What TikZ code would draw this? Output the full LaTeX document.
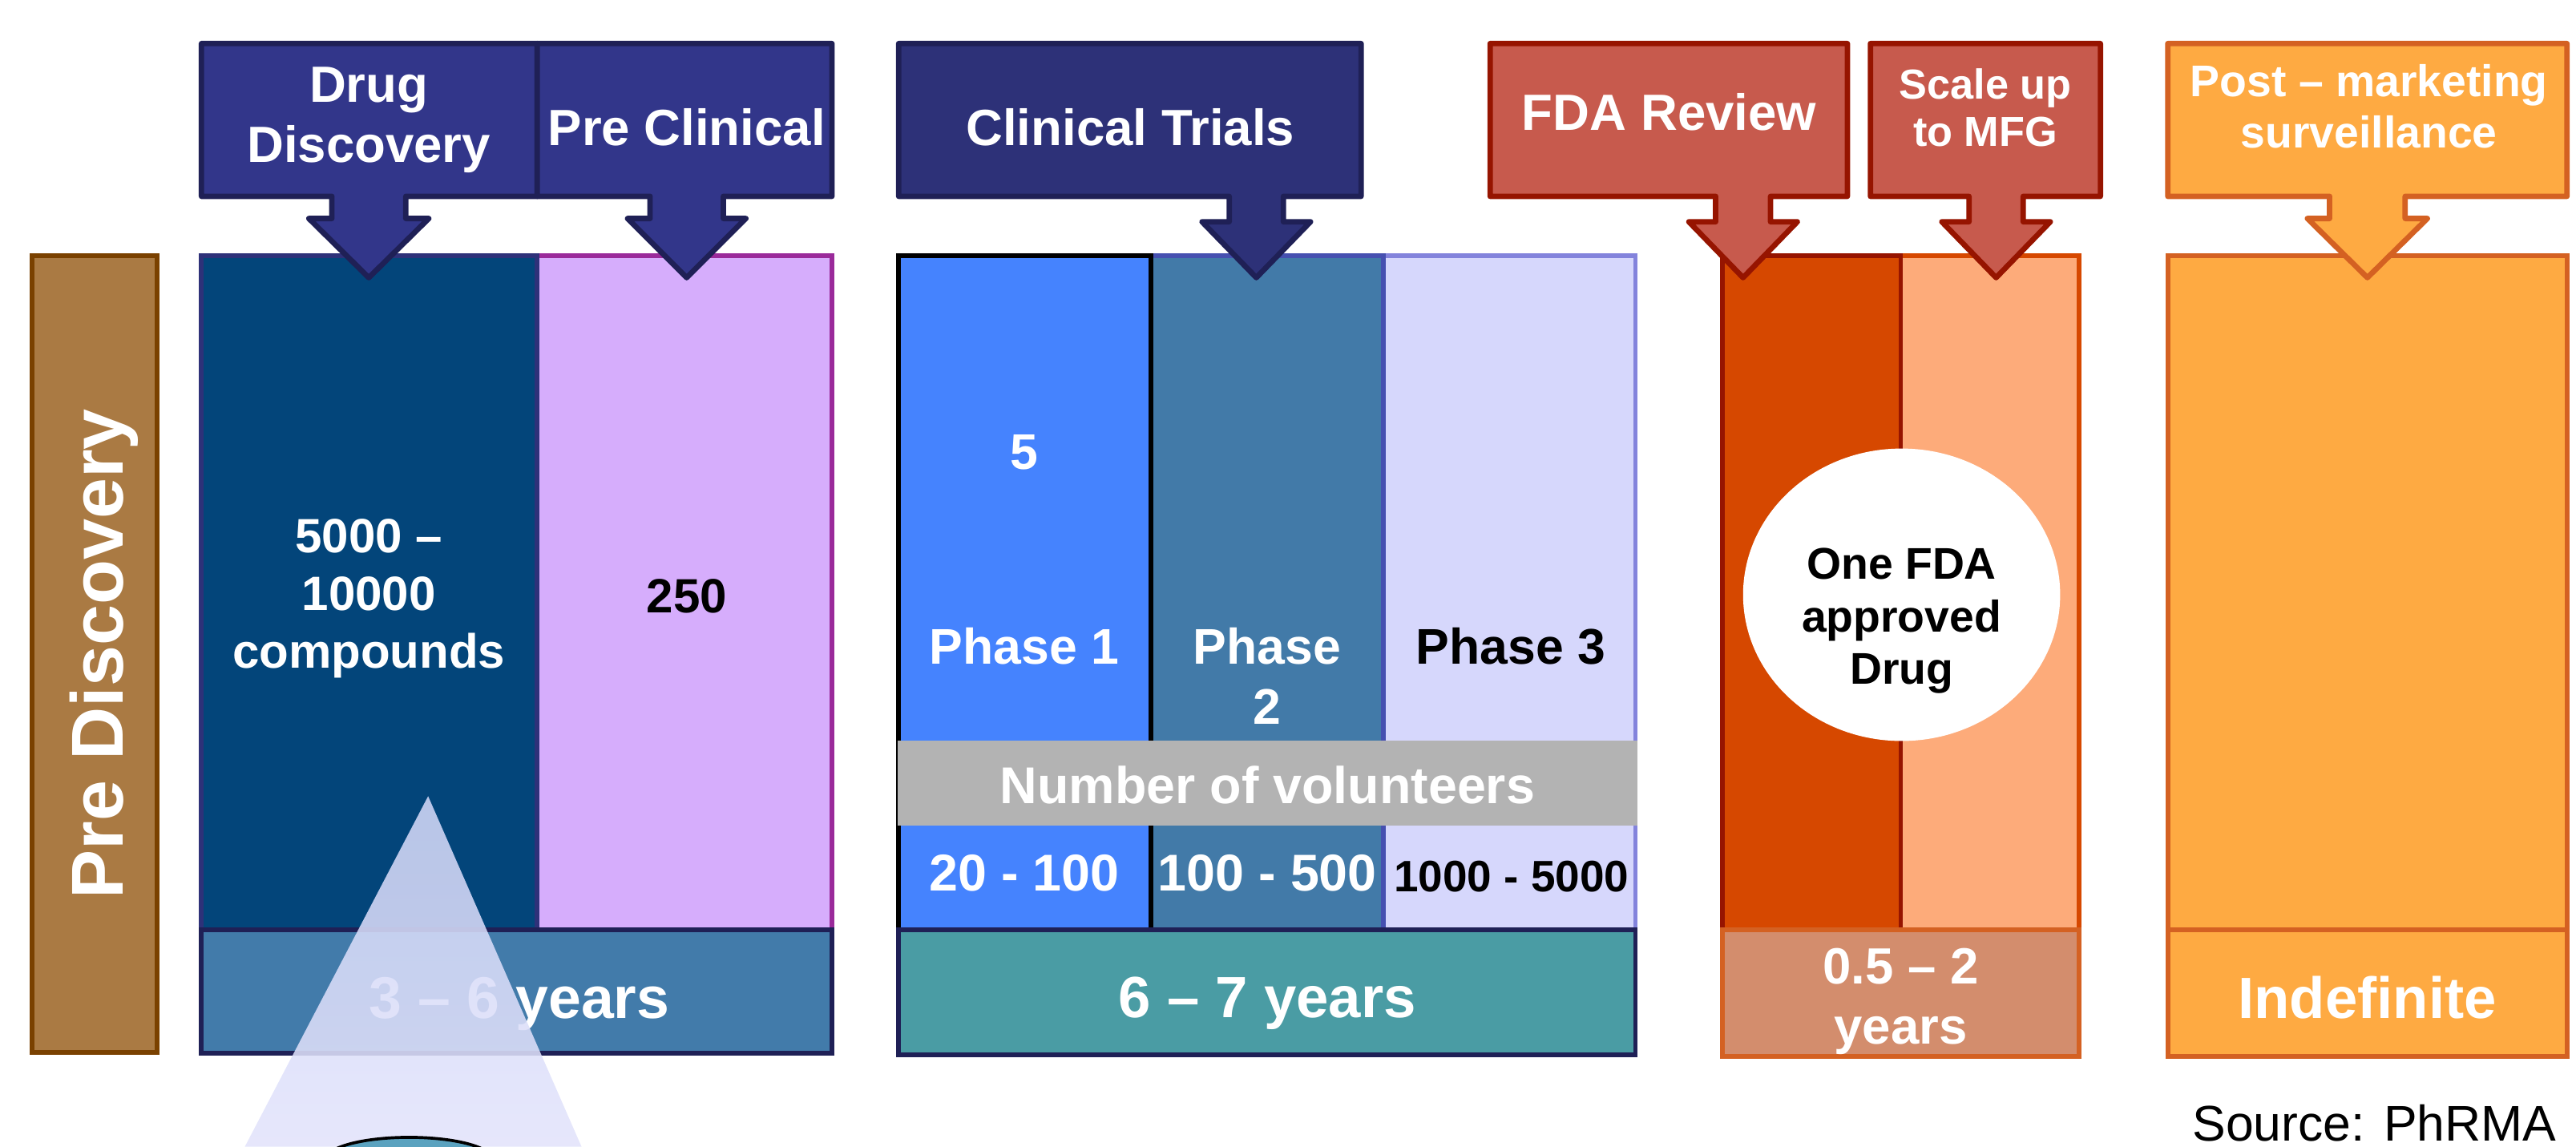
\documentclass[tikz,border=0pt]{standalone}
\usepackage{fontspec}
\setmainfont{Liberation Sans}
\usetikzlibrary{shapes.geometric}

\definecolor{brownF}{HTML}{AA7A43}
\definecolor{brownD}{HTML}{7A4100}
\definecolor{ddF}{HTML}{03457A}
\definecolor{ddD}{HTML}{2E3179}
\definecolor{pcF}{HTML}{D6ADFC}
\definecolor{pcD}{HTML}{9A2A9A}
\definecolor{yrA}{HTML}{427BAA}
\definecolor{navyD}{HTML}{1F2056}
\definecolor{pOneF}{HTML}{4583FE}
\definecolor{pTwoF}{HTML}{427AA8}
\definecolor{pTwoD}{HTML}{4650B0}
\definecolor{pThreeF}{HTML}{D6D7FC}
\definecolor{pThreeD}{HTML}{8383DC}
\definecolor{grayF}{HTML}{B3B3B3}
\definecolor{yrB}{HTML}{4A9CA4}
\definecolor{fdaLF}{HTML}{D64800}
\definecolor{redD}{HTML}{961400}
\definecolor{fdaRF}{HTML}{FDAB7A}
\definecolor{yrC}{HTML}{D38D6D}
\definecolor{orD}{HTML}{D46122}
\definecolor{postF}{HTML}{FEAA42}
\definecolor{calNavy}{HTML}{32368A}
\definecolor{calNavyB}{HTML}{2D3178}
\definecolor{calRed}{HTML}{C75A4D}
\definecolor{triTop}{HTML}{D2D7F8}
\definecolor{triBot}{HTML}{E2E3FA}
\definecolor{tealF}{HTML}{5AA2BF}

\newcommand\fsz[2]{\fontsize{#1mm}{#2mm}\selectfont}

\tikzset{
  every node/.style={inner sep=0pt, outer sep=0pt},
  callout/.style={line width=3.3mm, line join=round},
  bar/.style={line width=2.8mm, line join=miter},
  lbl/.style={text=white, align=center},
  dlbl/.style={text=black, align=center},
}

\begin{document}
\begin{tikzpicture}[x=1mm, y=-1mm]
\useasboundingbox (0,0) rectangle (1568,698);

% ---------- Pre Discovery ----------
\draw[bar, draw=brownD, fill=brownF] (19.5,155.5) rectangle (95.5,640.5);
\node[lbl, anchor=base, rotate=90, font=\bfseries\fsz{44.7}{50}] (tPre) at (75,398) {Pre Discovery};

% ---------- Drug discovery / pre clinical bars ----------
\draw[bar, draw=pcD, fill=pcF] (327,155.5) rectangle (506.5,566);
\draw[bar, draw=ddD, fill=ddF] (122.5,155.5) rectangle (327,566);
\draw[bar, draw=navyD, fill=yrA] (122.5,566) rectangle (506.5,641);
\node[lbl, font=\bfseries\fsz{29.3}{35.2}] (tCompounds) at (224.5,364.4) {5000 \textendash\\10000\\compounds};
\node[dlbl, anchor=base, font=\bfseries\fsz{29.3}{35}] (t250) at (418,373) {250};
\node[lbl, anchor=base, font=\bfseries\fsz{35.8}{40}] (tYrA) at (316,620) {3 \textendash\ 6 years};

% ---------- Clinical trial bars ----------
\draw[bar, draw=pThreeD, fill=pThreeF] (842,155.5) rectangle (995.5,566);
\draw[bar, draw=pTwoD, fill=pTwoF] (700.6,155.5) rectangle (842,566);
\draw[bar, draw=black, fill=pOneF] (547,155.5) rectangle (700.6,566);
\fill[grayF] (546.5,451) rectangle (996.5,502.4);
\draw[bar, draw=navyD, fill=yrB] (547,566) rectangle (995.5,642);
\node[lbl, anchor=base, font=\bfseries\fsz{30.5}{35}] (t5) at (623.5,285.6) {5};
\node[lbl, anchor=base, font=\bfseries\fsz{30.5}{35}] (tP1) at (623.5,404.4) {Phase 1};
\node[lbl, font=\bfseries\fsz{30.5}{36.6}] (tP2) at (771.3,411.6) {Phase\\2};
\node[dlbl, anchor=base, font=\bfseries\fsz{30.5}{35}] (tP3) at (919.5,404.4) {Phase 3};
\node[lbl, anchor=base, font=\bfseries\fsz{31.5}{36}] (tVol) at (771.5,489) {Number of volunteers};
\node[lbl, anchor=base, font=\bfseries\fsz{31.5}{36}] (tV1) at (623.5,542.3) {20 - 100};
\node[lbl, anchor=base, font=\bfseries\fsz{31.5}{36}] (tV2) at (771.5,542.3) {100 - 500};
\node[dlbl, anchor=base, font=\bfseries\fsz{26.8}{31}] (tV3) at (920,542.7) {1000 - 5000};
\node[lbl, anchor=base, font=\bfseries\fsz{35.4}{40}] (tYrB) at (771.5,619.5) {6 \textendash\ 7 years};

% ---------- FDA bars ----------
\draw[bar, draw=fdaLF, fill=fdaRF] (1157,155.5) rectangle (1265.5,566);
\draw[bar, draw=redD, fill=fdaLF] (1048.5,155.5) rectangle (1157,566);
\draw[bar, draw=orD, fill=yrC] (1048.5,566) rectangle (1265.5,643);
\node[fill=white, draw=none, ellipse, minimum width=193mm, minimum height=178mm] (oval) at (1157.5,362) {};
\node[dlbl, font=\bfseries\fsz{27}{32}] (tOne) at (1157.5,377.9) {One FDA\\approved\\Drug};
\node[lbl, font=\bfseries\fsz{31}{36.5}] (tYrC) at (1157,609.4) {0.5 \textendash\ 2\\years};

% ---------- Post marketing bars ----------
\draw[bar, draw=orD, fill=postF] (1319.5,155.5) rectangle (1562.5,566);
\draw[bar, draw=orD, fill=postF] (1319.5,566) rectangle (1562.5,643);
\node[lbl, anchor=base, font=\bfseries\fsz{35.4}{40}] (tInd) at (1441,619.6) {Indefinite};

% ---------- Callouts ----------
\draw[callout, draw=navyD, fill=calNavy] (122.6,26.5) -- (327,26.5) -- (327,119.5) -- (247,119.5) -- (247,133) -- (261,133) -- (224.5,169) -- (188,133) -- (202,133) -- (202,119.5) -- (122.6,119.5) -- cycle;
\draw[callout, draw=navyD, fill=calNavy] (327,26.5) -- (506.4,26.5) -- (506.4,119.5) -- (440.3,119.5) -- (440.3,133) -- (454,133) -- (418,169) -- (382,133) -- (395.7,133) -- (395.7,119.5) -- (327,119.5) -- cycle;
\draw[callout, draw=navyD, fill=calNavyB] (547,26.5) -- (828.5,26.5) -- (828.5,119.5) -- (781.2,119.5) -- (781.2,135) -- (797.7,135) -- (764.7,169) -- (731.7,135) -- (748.2,135) -- (748.2,119.5) -- (547,119.5) -- cycle;
\draw[callout, draw=redD, fill=calRed] (907,26.5) -- (1124.5,26.5) -- (1124.5,119.5) -- (1077.7,119.5) -- (1077.7,135) -- (1094,135) -- (1061,169) -- (1028,135) -- (1044.3,135) -- (1044.3,119.5) -- (907,119.5) -- cycle;
\draw[callout, draw=redD, fill=calRed] (1138.5,26.5) -- (1278.5,26.5) -- (1278.5,119.5) -- (1231.5,119.5) -- (1231.5,135) -- (1248,135) -- (1215,169) -- (1182,135) -- (1198.5,135) -- (1198.5,119.5) -- (1138.5,119.5) -- cycle;
\draw[callout, draw=orD, fill=postF] (1319.5,26.5) -- (1562.5,26.5) -- (1562.5,119.5) -- (1464,119.5) -- (1464,133) -- (1477.5,133) -- (1441,169) -- (1404.5,133) -- (1418,133) -- (1418,119.5) -- (1319.5,119.5) -- cycle;

\node[lbl, font=\bfseries\fsz{31}{36.5}] (tDD) at (224.5,73) {Drug\\Discovery};
\node[lbl, anchor=base, font=\bfseries\fsz{31}{36}] (tPC) at (418,88.6) {Pre Clinical};
\node[lbl, anchor=base, font=\bfseries\fsz{31}{36}] (tCT) at (688,88.6) {Clinical Trials};
\node[lbl, anchor=base, font=\bfseries\fsz{31}{36}] (tFDA) at (1016,79.4) {FDA Review};
\node[lbl, font=\bfseries\fsz{25.5}{29}] (tScale) at (1208.5,65.5) {Scale up\\to MFG};
\node[lbl, font=\bfseries\fsz{27}{31.5}] (tPost) at (1442,64.7) {Post \textendash\ marketing\\surveillance};

% ---------- Beam and dish ----------
\shade[top color=triTop, bottom color=triBot, fill opacity=0.88] (260.6,484.6) -- (354,698) -- (149,698) -- cycle;
\begin{scope}
  \clip (0,0) rectangle (1568,698);
  \fill[tealF] (205,699) .. controls (225,690) and (273,690) .. (293,699) -- (293,705) -- (205,705) -- cycle;
  \draw[line width=1.8mm] (205,699) .. controls (225,690) and (273,690) .. (293,699);
\end{scope}

% ---------- Source ----------
\node[anchor=base east, text=black, font=\fsz{30.5}{36}] (src) at (1556,694.5) {Source: PhRMA};
\end{tikzpicture}
\end{document}
